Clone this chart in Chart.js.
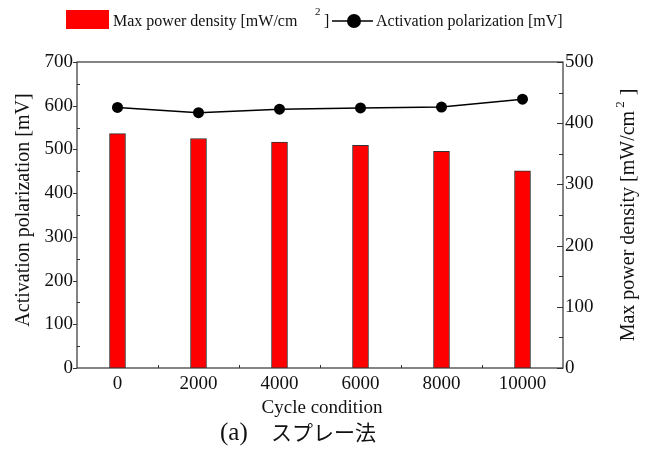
<!DOCTYPE html>
<html>
<head>
<meta charset="utf-8">
<script src="https://cdn.jsdelivr.net/npm/chart.js@4.4.1/dist/chart.umd.min.js"></script>
<style>
  html, body { margin: 0; padding: 0; background: #fff; }
  #wrap { width: 650px; height: 450px; position: relative; }
</style>
</head>
<body>
<div id="wrap"><canvas id="c" width="650" height="450"></canvas></div>
<script>
const categories = ['0', '2000', '4000', '6000', '8000', '10000'];
const maxPowerDensity = [383, 375, 369, 364, 354, 322];          // mW/cm^2 (right axis)
const activationPolarization = [596, 584, 592, 595, 597, 615];   // mV (left axis)
const leftTicks = [0, 100, 200, 300, 400, 500, 600, 700];
const rightTicks = [0, 100, 200, 300, 400, 500];

const SERIF = "'Liberation Serif', 'Times New Roman', serif";

const decorPlugin = {
  id: 'decor',
  afterDraw(chart) {
    const ctx = chart.ctx;
    const a = chart.chartArea;
    const x = chart.scales.x, y = chart.scales.y, y1 = chart.scales.y1;
    ctx.save();
    // frame
    ctx.strokeStyle = '#333';
    ctx.lineWidth = 1.2;
    ctx.strokeRect(a.left, a.top, a.right - a.left, a.bottom - a.top);
    // left axis ticks
    ctx.lineWidth = 1;
    ctx.beginPath();
    for (let v = 0; v <= 700; v += 50) {
      const py = Math.round(y.getPixelForValue(v)) + 0.5;
      if (v % 100 === 0) { ctx.moveTo(a.left - 4, py); ctx.lineTo(a.left, py); }
      else { ctx.moveTo(a.left, py); ctx.lineTo(a.left + 3, py); }
    }
    // right axis ticks (inward)
    for (let v = 0; v <= 500; v += 50) {
      const py = Math.round(y1.getPixelForValue(v)) + 0.5;
      const len = (v % 100 === 0) ? 6 : 4;
      ctx.moveTo(a.right, py); ctx.lineTo(a.right - len, py);
    }
    // x axis boundary ticks
    for (let i = 0; i < categories.length - 1; i++) {
      const px = Math.round((x.getPixelForValue(i) + x.getPixelForValue(i + 1)) / 2) + 0.5;
      ctx.moveTo(px, a.bottom); ctx.lineTo(px, a.bottom - 3);
    }
    ctx.stroke();

    ctx.fillStyle = '#111';
    // left axis title
    ctx.save();
    ctx.translate(24, (a.top + a.bottom) / 2 - 5);
    ctx.rotate(-Math.PI / 2);
    ctx.font = '20px ' + SERIF;
    ctx.textAlign = 'center';
    ctx.textBaseline = 'middle';
    ctx.fillText('Activation polarization [mV]', 0, 0);
    ctx.restore();

    // right axis title (reads bottom to top), with superscript
    ctx.save();
    ctx.translate(629, (a.top + a.bottom) / 2);
    ctx.rotate(-Math.PI / 2);
    ctx.textBaseline = 'middle';
    ctx.textAlign = 'left';
    ctx.font = '20px ' + SERIF;
    const rMain = 'Max power density [mW/cm';
    const wMain = ctx.measureText(rMain).width;
    ctx.font = '13px ' + SERIF;
    const wSup = ctx.measureText('2').width;
    ctx.font = '20px ' + SERIF;
    const wEnd = ctx.measureText(' ]').width;
    const total = wMain + 3 + wSup + 1 + wEnd;
    let sx = -total / 2;
    ctx.fillText(rMain, sx, 0);
    sx += wMain + 3;
    ctx.font = '13px ' + SERIF;
    ctx.fillText('2', sx, -8);
    sx += wSup + 1;
    ctx.font = '20px ' + SERIF;
    ctx.fillText(' ]', sx, 0);
    ctx.restore();

    // x axis title
    ctx.font = '19px ' + SERIF;
    ctx.textAlign = 'center';
    ctx.textBaseline = 'alphabetic';
    ctx.fillText('Cycle condition', 322, 413);

    // caption
    ctx.textAlign = 'left';
    ctx.font = '25px ' + SERIF;
    ctx.fillText('(a)', 220, 440);
    ctx.font = "21px 'Noto Sans CJK JP', sans-serif";
    ctx.fillText('スプレー法', 271, 440);

    // legend
    ctx.fillStyle = '#ff0000';
    ctx.fillRect(66, 10, 43, 19);
    ctx.fillStyle = '#111';
    ctx.font = '16px ' + SERIF;
    ctx.textBaseline = 'alphabetic';
    ctx.fillText('Max power density [mW/cm', 113, 26);
    ctx.font = '11px ' + SERIF;
    ctx.fillText('2', 315, 15);
    ctx.font = '16px ' + SERIF;
    ctx.fillText(']', 324, 26);
    ctx.strokeStyle = '#000';
    ctx.lineWidth = 1.5;
    ctx.beginPath();
    ctx.moveTo(332, 21); ctx.lineTo(373, 21);
    ctx.stroke();
    ctx.fillStyle = '#000';
    ctx.beginPath();
    ctx.arc(354, 21, 7, 0, Math.PI * 2);
    ctx.fill();
    ctx.fillStyle = '#111';
    ctx.font = '16px ' + SERIF;
    ctx.fillText('Activation polarization [mV]', 376, 26);
    ctx.restore();
  }
};

new Chart(document.getElementById('c'), {
  data: {
    labels: categories,
    datasets: [
      {
        type: 'line',
        label: 'Activation polarization [mV]',
        data: activationPolarization,
        yAxisID: 'y',
        borderColor: '#000',
        borderWidth: 1.5,
        pointRadius: 5.5,
        pointBackgroundColor: '#000',
        pointBorderColor: '#000',
        pointBorderWidth: 0,
        tension: 0,
        order: 0
      },
      {
        type: 'bar',
        label: 'Max power density [mW/cm2]',
        data: maxPowerDensity,
        yAxisID: 'y1',
        backgroundColor: '#ff0000',
        borderColor: '#333',
        borderWidth: 1,
        barThickness: 16,
        order: 1
      }
    ]
  },
  options: {
    responsive: false,
    animation: false,
    devicePixelRatio: 1,
    layout: { padding: { top: 62, left: 0, right: 0, bottom: 0 } },
    plugins: { legend: { display: false }, tooltip: { enabled: false } },
    scales: {
      x: {
        type: 'category',
        offset: true,
        grid: { display: false, drawTicks: false },
        border: { display: false },
        ticks: { color: '#111', font: { family: SERIF, size: 19 }, padding: 5, maxRotation: 0 },
        afterFit(s) { s.height = 82; }
      },
      y: {
        position: 'left',
        min: 0, max: 700,
        grid: { display: false, drawTicks: false },
        border: { display: false },
        afterBuildTicks(s) { s.ticks = leftTicks.map(v => ({ value: v })); },
        ticks: { color: '#111', font: { family: SERIF, size: 19 }, padding: 4 },
        afterFit(s) { s.width = 77; }
      },
      y1: {
        position: 'right',
        min: 0, max: 500,
        grid: { display: false, drawTicks: false },
        border: { display: false },
        afterBuildTicks(s) { s.ticks = rightTicks.map(v => ({ value: v })); },
        ticks: { color: '#111', font: { family: SERIF, size: 19 }, padding: 2 },
        afterFit(s) { s.width = 87; }
      }
    }
  },
  plugins: [decorPlugin]
});
</script>
</body>
</html>
